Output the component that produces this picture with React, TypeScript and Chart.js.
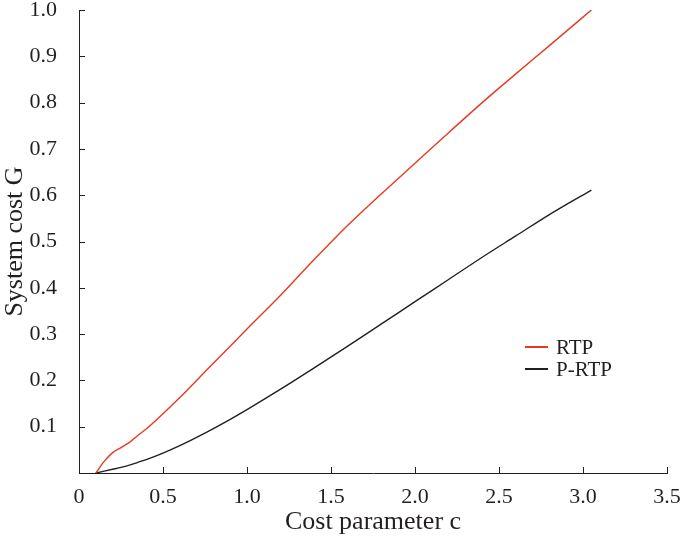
import React, { useEffect, useRef } from "react";
import { Chart, registerables } from "chart.js";

Chart.register(...registerables);

const costC = [0.1, 0.15, 0.2, 0.25, 0.3, 0.35, 0.4, 0.5, 0.6, 0.7, 0.8, 0.9, 1.0, 1.2, 1.4, 1.6, 1.8, 2.0, 2.2, 2.4, 2.6, 2.8, 3.05];
const rtpValues = [0, 0.025, 0.044, 0.055, 0.066, 0.081, 0.095, 0.128, 0.163, 0.2, 0.237, 0.274, 0.311, 0.384, 0.461, 0.535, 0.603, 0.669, 0.735, 0.8, 0.862, 0.923, 1.0];
const prtpValues = [0, 0.004, 0.008, 0.012, 0.017, 0.023, 0.029, 0.043, 0.059, 0.077, 0.096, 0.116, 0.137, 0.181, 0.227, 0.274, 0.322, 0.37, 0.418, 0.466, 0.512, 0.558, 0.611];
const xTicks = [0, 0.5, 1.0, 1.5, 2.0, 2.5, 3.0, 3.5];
const yTicks = [0.1, 0.2, 0.3, 0.4, 0.5, 0.6, 0.7, 0.8, 0.9, 1.0];
const seriesNames = ["RTP", "P-RTP"];
const seriesColors = ["#e8391f", "#231f20"];

const FONT = "'Liberation Serif', 'Times New Roman', serif";
const AXIS = "#231f20";

const inwardTicks = {
  id: "inwardTicks",
  afterDraw(chart: any) {
    const { ctx, chartArea, scales } = chart;
    ctx.save();
    ctx.strokeStyle = AXIS;
    ctx.lineWidth = 1;
    const len = 6;
    xTicks.forEach((v) => {
      const px = Math.round(scales.x.getPixelForValue(v)) + 0.5;
      ctx.beginPath();
      ctx.moveTo(px, chartArea.bottom);
      ctx.lineTo(px, chartArea.bottom - len);
      ctx.stroke();
    });
    yTicks.forEach((v) => {
      const py = Math.round(scales.y.getPixelForValue(v)) + 0.5;
      ctx.beginPath();
      ctx.moveTo(chartArea.left, py);
      ctx.lineTo(chartArea.left + len, py);
      ctx.stroke();
    });
    ctx.restore();
  },
};

export default function App() {
  const ref = useRef<HTMLCanvasElement | null>(null);

  useEffect(() => {
    document.body.style.margin = "0";
    if (!ref.current) return;
    const chart = new Chart(ref.current, {
      type: "line",
      data: {
        datasets: [rtpValues, prtpValues].map((vals, i) => ({
          label: seriesNames[i],
          data: costC.map((c, j) => ({ x: c, y: vals[j] })),
          borderColor: seriesColors[i],
          backgroundColor: seriesColors[i],
          borderWidth: 1.4,
          pointRadius: 0,
          cubicInterpolationMode: "monotone" as const,
          fill: false,
        })),
      },
      options: {
        animation: false,
        responsive: false,
        devicePixelRatio: 1,
        layout: { padding: { top: 10, right: 18, left: 0, bottom: 0 } },
        plugins: { legend: { display: false }, tooltip: { enabled: false } },
        scales: {
          x: {
            type: "linear",
            min: 0,
            max: 3.5,
            afterBuildTicks: (s: any) => {
              s.ticks = xTicks.map((v) => ({ value: v }));
            },
            afterFit: (s: any) => {
              s.height = 69;
              s.paddingLeft = 0;
              s.paddingRight = 0;
            },
            grid: { display: false },
            border: { display: true, color: AXIS, width: 1 },
            ticks: {
              color: AXIS,
              font: { family: FONT, size: 22 },
              padding: 3,
              maxRotation: 0,
              callback: (v: any) => (Number(v) === 0 ? "0" : Number(v).toFixed(1)),
            },
            title: {
              display: true,
              text: "Cost parameter c",
              color: AXIS,
              font: { family: FONT, size: 26 },
              padding: { top: 4, bottom: 4 },
            },
          },
          y: {
            type: "linear",
            min: 0,
            max: 1,
            afterBuildTicks: (s: any) => {
              s.ticks = yTicks.map((v) => ({ value: v }));
            },
            afterFit: (s: any) => {
              s.width = 79;
              s.paddingTop = 0;
              s.paddingBottom = 0;
            },
            grid: { display: false },
            border: { display: true, color: AXIS, width: 1 },
            ticks: {
              color: AXIS,
              font: { family: FONT, size: 22 },
              padding: 14,
              callback: (v: any) => Number(v).toFixed(1),
            },
            title: {
              display: true,
              text: "System cost G",
              color: AXIS,
              font: { family: FONT, size: 26 },
              padding: { top: 0, bottom: 6 },
            },
          },
        },
      },
      plugins: [inwardTicks],
    });
    return () => chart.destroy();
  }, []);

  return (
    <div style={{ position: "relative", width: 685, height: 542, background: "#fff" }}>
      <canvas ref={ref} width={685} height={542} style={{ display: "block" }} />
      <div
        style={{
          position: "absolute",
          left: 525,
          top: 336,
          fontFamily: FONT,
          fontSize: 21,
          color: AXIS,
          lineHeight: "22px",
        }}
      >
        {seriesNames.map((n, i) => (
          <div key={n} style={{ display: "flex", alignItems: "center" }}>
            <span
              style={{
                display: "inline-block",
                width: 23,
                height: 2,
                background: seriesColors[i],
                marginRight: 8,
              }}
            />
            <span>{n}</span>
          </div>
        ))}
      </div>
    </div>
  );
}
